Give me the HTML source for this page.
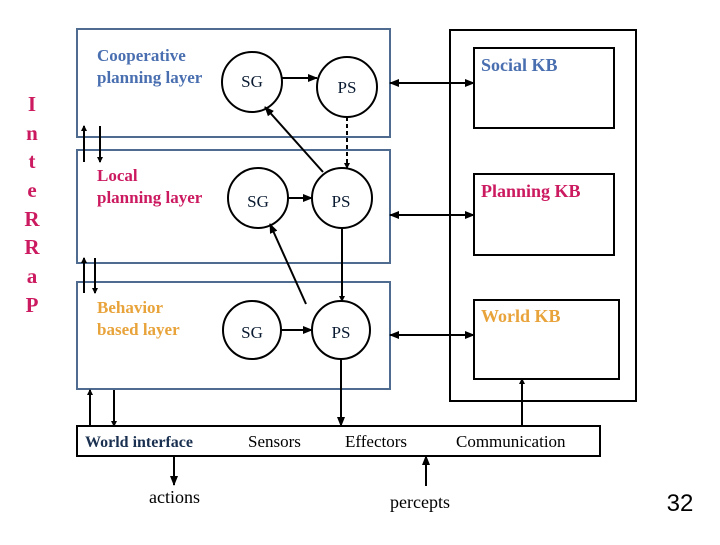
<!DOCTYPE html>
<html><head><style>
body{margin:0;background:#fff;width:720px;height:540px;overflow:hidden}
svg text{font-family:"Liberation Serif",serif}
</style></head><body>
<svg width="720" height="540" xmlns="http://www.w3.org/2000/svg">
<defs>
<marker id="a" markerWidth="10" markerHeight="10" refX="9" refY="5" orient="auto-start-reverse" markerUnits="userSpaceOnUse"><path d="M0,1 L10,5 L0,9 z" fill="#000"/></marker>
<marker id="s" markerWidth="6" markerHeight="6" refX="5" refY="3" orient="auto-start-reverse" markerUnits="userSpaceOnUse"><path d="M0,0 L6,3 L0,6 z" fill="#000"/></marker>
</defs>
<g font-size="21" font-weight="bold" text-anchor="middle" fill="#cc1a60">
<text x="32" y="111">I</text><text x="32" y="140">n</text><text x="32" y="168">t</text><text x="32" y="197">e</text><text x="32" y="226">R</text><text x="32" y="254">R</text><text x="32" y="283">a</text><text x="32" y="312">P</text>
</g>
<g fill="none" stroke="#4f6b8f" stroke-width="2">
<rect x="77" y="29" width="313" height="108"/>
<rect x="77" y="150" width="313" height="113"/>
<rect x="77" y="282" width="313" height="107"/>
</g>
<g fill="none" stroke="#000" stroke-width="2">
<rect x="450" y="30" width="186" height="371"/>
<rect x="474" y="48" width="140" height="80"/>
<rect x="474" y="174" width="140" height="81"/>
<rect x="474" y="300" width="145" height="79"/>
<rect x="77" y="426" width="523" height="30"/>
<circle cx="252" cy="82" r="30"/><circle cx="347" cy="87" r="30"/>
<circle cx="258" cy="198" r="30"/><circle cx="342" cy="198" r="30"/>
<circle cx="252" cy="330" r="29"/><circle cx="341" cy="330" r="29"/>
</g>
<g stroke="#000" stroke-width="2" fill="none">
<line x1="282" y1="78" x2="317" y2="78" marker-end="url(#a)"/>
<line x1="323" y1="172" x2="265" y2="107" marker-end="url(#a)"/>
<line x1="347" y1="117" x2="347" y2="168" stroke-dasharray="4,3" marker-end="url(#s)"/>
<line x1="288" y1="198" x2="312" y2="198" marker-end="url(#a)"/>
<line x1="306" y1="304" x2="270" y2="224" marker-end="url(#a)"/>
<line x1="342" y1="228" x2="342" y2="301" marker-end="url(#s)"/>
<line x1="281" y1="330" x2="312" y2="330" marker-end="url(#a)"/>
<line x1="341" y1="359" x2="341" y2="426" marker-end="url(#a)"/>
<line x1="390" y1="83" x2="474" y2="83" marker-start="url(#a)" marker-end="url(#a)"/>
<line x1="390" y1="215" x2="474" y2="215" marker-start="url(#a)" marker-end="url(#a)"/>
<line x1="390" y1="335" x2="474" y2="335" marker-start="url(#a)" marker-end="url(#a)"/>
<line x1="84" y1="162" x2="84" y2="126" marker-end="url(#s)"/>
<line x1="100" y1="126" x2="100" y2="162" marker-end="url(#s)"/>
<line x1="84" y1="293" x2="84" y2="258" marker-end="url(#s)"/>
<line x1="95" y1="258" x2="95" y2="293" marker-end="url(#s)"/>
<line x1="90" y1="426" x2="90" y2="390" marker-end="url(#s)"/>
<line x1="114" y1="390" x2="114" y2="426" marker-end="url(#s)"/>
<line x1="174" y1="456" x2="174" y2="485" marker-end="url(#a)"/>
<line x1="426" y1="486" x2="426" y2="456" marker-end="url(#a)"/>
<line x1="522" y1="426" x2="522" y2="379" marker-end="url(#s)"/>
</g>
<g font-size="17" font-weight="bold">
<text x="97" y="61" fill="#4a6fb0">Cooperative</text>
<text x="97" y="83" fill="#4a6fb0">planning layer</text>
<text x="97" y="181" fill="#cc1a60">Local</text>
<text x="97" y="203" fill="#cc1a60">planning layer</text>
<text x="97" y="313" fill="#e8a33a">Behavior</text>
<text x="97" y="335" fill="#e8a33a">based layer</text>
<text x="481" y="71" fill="#4a6fb0" font-size="18">Social KB</text>
<text x="481" y="197" fill="#cc1a60" font-size="18">Planning KB</text>
<text x="481" y="322" fill="#e8a33a" font-size="18">World KB</text>
<text x="85" y="447" fill="#1a3050" font-size="16">World interface</text>
</g>
<g font-size="17" text-anchor="middle" fill="#0a1a30">
<text x="252" y="87">SG</text><text x="347" y="93">PS</text>
<text x="258" y="207">SG</text><text x="341" y="207">PS</text>
<text x="252" y="338">SG</text><text x="341" y="338">PS</text>
</g>
<g font-size="17">
<text x="248" y="447">Sensors</text>
<text x="345" y="447">Effectors</text>
<text x="456" y="447">Communication</text>
<text x="149" y="503" font-size="18">actions</text>
<text x="390" y="508" font-size="18">percepts</text>
</g>
<text x="680" y="511" font-size="24" text-anchor="middle" style="font-family:'Liberation Sans',sans-serif">32</text>
</svg>
</body></html>
